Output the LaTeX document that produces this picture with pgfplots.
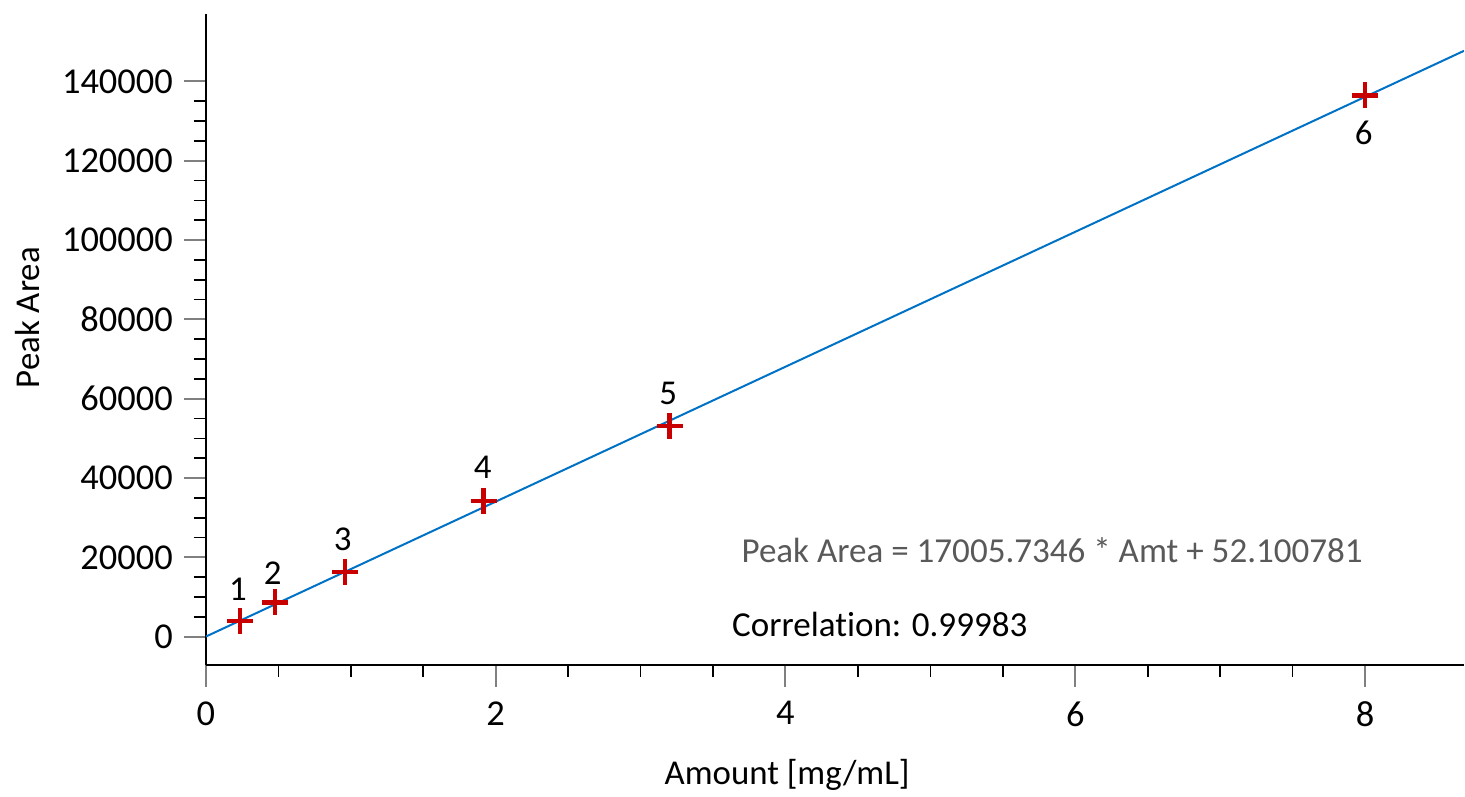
\documentclass[border=0pt]{standalone}
\usepackage{fontspec}
\setmainfont{Carlito}
\usepackage{pgfplots}
\pgfplotsset{compat=1.18}
\definecolor{fitblue}{HTML}{0072C6}
\definecolor{ptred}{HTML}{C80000}
\definecolor{eqgray}{HTML}{595959}
\begin{document}
\begin{tikzpicture}
\begin{axis}[
    scale only axis,
    width=629.5bp, height=325.5bp,
    xmin=0, xmax=8.683,
    ymin=-7000, ymax=157000,
    axis lines=left,
    axis line style={black, line width=1bp, -},
    xtick={0,2,4,6,8},
    ytick={0,20000,40000,60000,80000,100000,120000,140000},
    minor x tick num=3,
    minor y tick num=3,
    tick align=outside,
    major tick length=11bp,
    minor tick length=6bp,
    major tick style={gray, line width=1bp},
    minor tick style={black, line width=0.8bp},
    scaled y ticks=false,
    /pgf/number format/assume math mode=true,
    yticklabel={\pgfmathprintnumber[fixed,1000 sep={}]{\tick}},
    xticklabel={\pgfmathprintnumber[fixed]{\tick}},
    tick label style={font=\fontsize{18.3}{21}\selectfont},
    xticklabel style={yshift=-4bp},
    yticklabel style={xshift=-2bp},
    label style={font=\fontsize{17.5}{20}\selectfont},
    xlabel={Amount [mg/mL]},
    ylabel={Peak Area},
    xlabel style={at={(axis description cs:0.462,-0.169)}, anchor=center},
    ylabel style={at={(axis description cs:-0.1414,0.533)}, anchor=center, rotate=0},
    clip=true,
]
% calibration line
\addplot[color=fitblue, line width=1bp] coordinates {(0,52.1) (8.683,147714)};
% standards
\addplot[only marks, mark=+, mark size=6.5bp, color=ptred, line width=2.2bp] coordinates {
    (0.235, 4000) (0.476, 8650) (0.96, 16400) (1.917, 34300) (3.2, 53200) (8.0, 136480)
};
\node[font=\fontsize{17.5}{20}\selectfont] at (axis cs:0.221,11860) {1};
\node[font=\fontsize{17.5}{20}\selectfont] at (axis cs:0.462,16140) {2};
\node[font=\fontsize{17.5}{20}\selectfont] at (axis cs:0.945,24470) {3};
\node[font=\fontsize{17.5}{20}\selectfont] at (axis cs:1.91,42630) {4};
\node[font=\fontsize{17.5}{20}\selectfont] at (axis cs:3.19,61290) {5};
\node[font=\fontsize{17.5}{20}\selectfont] at (axis cs:7.99,127150) {6};
\node[font=\fontsize{17.6}{20}\selectfont, text=eqgray] at (axis cs:5.84,21950) {Peak Area = 17005.7346 * Amt + 52.100781};
\node[font=\fontsize{17.6}{20}\selectfont, anchor=west, inner sep=0pt] at (axis cs:3.63,3030) {Correlat\kern0pt ion: 0.99983};
\end{axis}
\path[use as bounding box] (-103bp,-64.5bp) rectangle (629.5bp,332.5bp);
\end{tikzpicture}
\end{document}
